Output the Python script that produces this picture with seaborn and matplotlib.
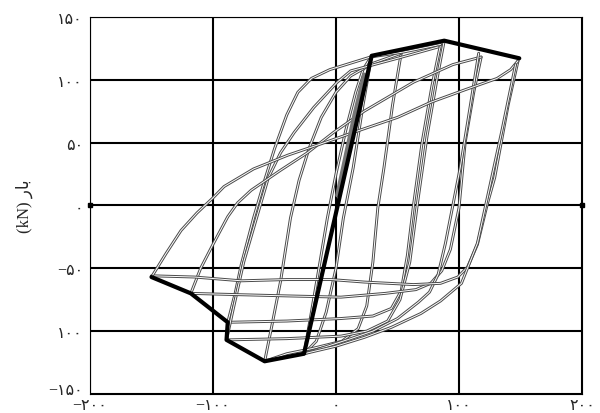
import numpy as np
import pandas as pd
import seaborn as sns
import matplotlib.pyplot as plt
import matplotlib.patheffects as pe
import matplotlib.transforms as mtransforms

# Cyclic load-displacement branches (displacement in mm, load in kN)
# Each cycle: reloading branch from the negative peak to the positive peak,
# then unloading branch from the positive peak back to the negative side.
c1_up_x = [-26, -20, -13, -7, 0, 8, 16, 22, 29]
c1_up_y = [-118, -85, -45, -10, 25, 60, 90, 108, 119]
c1_dn_x = [29, 22, 14, 6, 0, -8, -16, -26]
c1_dn_y = [119, 80, 30, -10, -50, -85, -108, -118]

c2_up_x = [-58, -52, -45, -37, -30, -22, -12, 0, 12, 30, 53]
c2_up_y = [-124, -95, -60, -10, 20, 45, 70, 90, 103, 113, 121]
c2_dn_x = [53, 46, 39, 34, 30, 25, 18, 5, -20, -40, -58]
c2_dn_y = [121, 80, 30, -2, -45, -80, -98, -108, -114, -118, -124]

c3_up_x = [-88, -82, -77, -67, -58, -50, -40, -31, -20, -5, 28, 55, 85]
c3_up_y = [-93, -70, -47, -10, 20, 45, 72, 90, 101, 108, 118, 122, 128]
c3_dn_x = [85, 78, 70, 63, 58, 53, 45, 30, 4, -40, -88]
c3_dn_y = [128, 95, 50, 0, -40, -68, -82, -88, -90, -92, -93]

c3b_up_x = [-89, -83, -75, -64, -55, -45, -34, -18, 1, 12, 50, 83]
c3b_up_y = [-107, -80, -45, -8, 22, 42, 58, 78, 98, 107, 117, 126]
c3b_dn_x = [88, 82, 74, 66, 60, 52, 42, 25, 4, -40, -89]
c3b_dn_y = [131, 100, 55, 0, -45, -75, -92, -100, -104, -106, -107]

c4_up_x = [-118, -110, -100, -88, -80, -69, -57, -45, -23, -2, 23, 63, 95, 118]
c4_up_y = [-70, -50, -31, -9, 2, 12, 20, 28, 42, 58, 75, 98, 112, 118]
c4_dn_x = [118, 112, 105, 100, 93, 86, 77, 65, 40, 4, -40, -80, -118]
c4_dn_y = [118, 90, 50, -2, -35, -52, -62, -67, -70, -73, -72, -71, -70]

c4b_dn_x = [116, 109, 101, 95, 89, 83, 76, 67, 50, 30, 12, -10, -26]
c4b_dn_y = [121, 78, 30, 0, -30, -55, -69, -77, -90, -100, -106, -113, -118]

c5_up_x = [-150, -138, -126, -113, -100, -91, -67, -39, -12, 20, 50, 77, 105, 131, 142, 148]
c5_up_y = [-57, -38, -20, -6, 6, 15, 29, 40, 49, 60, 70, 82, 92, 101, 108, 115]
c5_dn_x = [148, 140, 129, 123, 115, 107, 99, 85, 63, 23, -4, -40, -77, -115, -150]
c5_dn_y = [115, 80, 22, 1, -31, -49, -57, -62, -63, -61, -59, -59, -60, -57, -56]

c5b_dn_x = [146, 135, 123, 115, 102, 85, 69, 45, 23, 0, -26]
c5b_dn_y = [112, 60, 6, -30, -62, -76, -86, -97, -105, -112, -118]

# Early elastic cycles near the origin
elastic_x = [1, 8, 15, 23]
elastic_y = [8, 40, 72, 104]

# Envelope of peak loads
env_x = [-150, -118, -88, -89, -58, -26, 29, 88, 149]
env_y = [-57, -70, -93, -107, -124, -118, 119, 131, 117]

x_ticks = [-200, -100, 0, 100, 200]
x_labels = ['−۲۰۰', '−۱۰۰', '۰', '۱۰۰', '۲۰۰']
y_ticks = [-150, -100, -50, 0, 50, 100, 150]
y_labels = ['−۱۵۰', '۱۰۰', '−۵۰', '۰', '۵۰', '۱۰۰', '۱۵۰']

branches = {
    'c1_up': (c1_up_x, c1_up_y), 'c1_dn': (c1_dn_x, c1_dn_y),
    'c2_up': (c2_up_x, c2_up_y), 'c2_dn': (c2_dn_x, c2_dn_y),
    'c3_up': (c3_up_x, c3_up_y), 'c3_dn': (c3_dn_x, c3_dn_y),
    'c3b_up': (c3b_up_x, c3b_up_y), 'c3b_dn': (c3b_dn_x, c3b_dn_y),
    'c4_up': (c4_up_x, c4_up_y), 'c4_dn': (c4_dn_x, c4_dn_y),
    'c4b_dn': (c4b_dn_x, c4b_dn_y),
    'c5_up': (c5_up_x, c5_up_y), 'c5_dn': (c5_dn_x, c5_dn_y),
    'c5b_dn': (c5b_dn_x, c5b_dn_y),
}
frames = []
for name, (bx, by) in branches.items():
    frames.append(pd.DataFrame({'disp': bx, 'load': by, 'branch': name}))
loops = pd.concat(frames, ignore_index=True)

sns.set_theme(style='white')
plt.rcParams['font.family'] = ['Liberation Serif', 'DejaVu Sans']

fig, ax = plt.subplots(figsize=(6.0, 4.14), dpi=100)
fig.subplots_adjust(left=0.15, right=0.97, top=0.957, bottom=0.046)

# Hysteresis loops drawn as hollow (outlined) traces
sns.lineplot(data=loops, x='disp', y='load', units='branch', estimator=None,
             sort=False, color='white', linewidth=0.7, ax=ax, zorder=3,
             path_effects=[pe.Stroke(linewidth=2.1, foreground='#4a4a4a'),
                           pe.Normal()])
sns.lineplot(x=elastic_x, y=elastic_y, sort=False, estimator=None,
             color='#777777', linewidth=3, ax=ax, zorder=4)
sns.lineplot(x=env_x, y=env_y, sort=False, estimator=None,
             color='black', linewidth=3, ax=ax, zorder=5)

ax.set_xlim(-200, 200)
ax.set_ylim(-150, 150)
ax.set_xticks(x_ticks)
ax.set_xticklabels(x_labels, fontsize=11.5)
ax.set_yticks(y_ticks)
ax.set_yticklabels(y_labels, fontsize=11.5)
ax.tick_params(axis='y', length=0, pad=5)
ax.tick_params(axis='x', length=0, pad=2)
ax.grid(True, color='black', linewidth=1.5)
ax.set_axisbelow(True)
for s in ax.spines.values():
    s.set_color('black')
    s.set_linewidth(0.8)

# lift the lowest load label clear of the displacement labels
lowest = ax.get_yticklabels()[0]
lowest.set_transform(lowest.get_transform() +
                     mtransforms.ScaledTranslation(0, 4 / 72, fig.dpi_scale_trans))

ax.plot([-200, 200], [0, 0], 's', ms=3, color='black', clip_on=False, zorder=6)

ax.set_xlabel('')
ax.set_ylabel('(kN) ' + 'ر' + 'ﺎ' + 'ﺑ', fontsize=12)
ax.yaxis.set_label_coords(-0.115, 0.5)

fig.savefig('out.png', dpi=100)
